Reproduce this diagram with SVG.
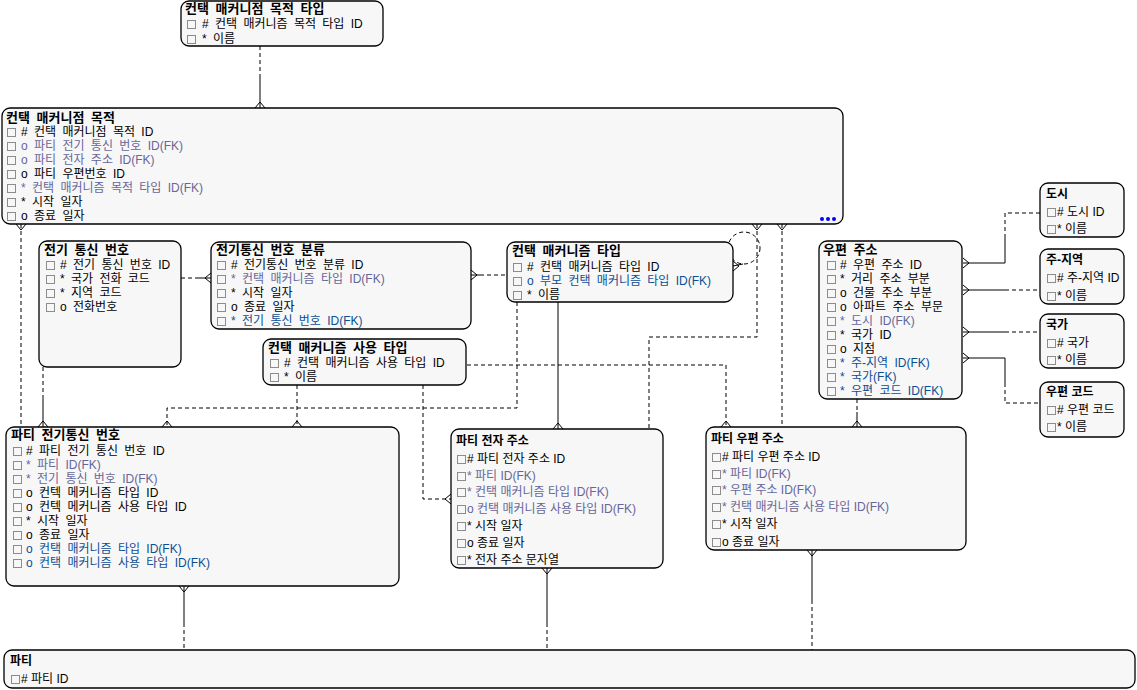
<svg xmlns="http://www.w3.org/2000/svg" xmlns:xlink="http://www.w3.org/1999/xlink" width="1137" height="690" viewBox="0 0 1137 690">
<style>
.box{fill:#f7f7f7;stroke:#000;stroke-width:1.3}
text{font-family:"Liberation Sans","Noto Sans CJK KR",sans-serif;font-size:12px;fill:#000}
.a text{word-spacing:3px}
.ti{font-weight:bold;font-size:13px}
.b .ti{font-size:12px}
.f1{fill:#666699}
.f2{fill:#0b4f94}
.cb{fill:none;stroke:#8c8c8c;stroke-width:1}
.ln{fill:none;stroke:#000;stroke-width:1}
.d{stroke-dasharray:4 3}
</style>
<defs>
<rect id="cb" class="cb" x="0.5" y="0.5" width="8" height="8"/>
<clipPath id="clip9"><rect x="1040" y="249" width="80" height="55"/></clipPath>
</defs>
<rect width="1137" height="690" fill="#fff"/>

<g id="connectors">
<path class="ln d" d="M260,46V78"/><path class="ln" d="M260,78V108M255,108L260,102L265,108"/>
<path class="ln" d="M16,224L21,230L26,224"/><path class="ln d" d="M21,224V427"/>
<path class="ln d" d="M43,367V398"/><path class="ln" d="M43,398V427M38,427L43,421L48,427"/>
<path class="ln d" d="M181,278H198"/><path class="ln" d="M198,278H211M211,273L205,278L211,283"/>
<path class="ln" d="M471,270L477,275L471,280M471,275H480"/><path class="ln d" d="M480,275H507"/>
<circle class="ln d" cx="744" cy="248" r="16"/>
<path class="ln" d="M733,266L743,264M733,261L739,266L733,271"/>
<path class="ln d" d="M517,302V408H167V427"/><path class="ln" d="M162,427L167,421L172,427"/>
<path class="ln" d="M558,302V429M553,429L558,423L563,429"/>
<path class="ln d" d="M467,365H726V427"/><path class="ln" d="M721,427L726,421L731,427"/>
<path class="ln d" d="M297,385V427"/><path class="ln" d="M292,427L297,421L302,427"/>
<path class="ln d" d="M423,385V499H451"/><path class="ln" d="M451,494L445,499L451,504"/>
<path class="ln" d="M752,224L757,230L762,224"/><path class="ln d" d="M757,224V337H649V429"/>
<path class="ln" d="M777,224L782,230L787,224"/><path class="ln d" d="M782,224V427"/>
<path class="ln d" d="M857,399V412"/><path class="ln" d="M857,412V427M852,427L857,421L862,427"/>
<path class="ln" d="M963,258L969,263L963,268M963,263H1005V238"/><path class="ln d" d="M1005,238V213H1040"/>
<path class="ln" d="M963,285L969,290L963,295M963,290H1005"/><path class="ln d" d="M1005,290H1040"/>
<path class="ln" d="M963,327L969,332L963,337M963,332H1005"/><path class="ln d" d="M1005,332H1040"/>
<path class="ln" d="M963,353L969,358L963,363M963,358H1005V383"/><path class="ln d" d="M1005,383V403H1040"/>
<path class="ln" d="M179,586L184,592L189,586M184,586V623"/><path class="ln d" d="M184,623V650"/>
<path class="ln" d="M542,568L547,574L552,568M547,568V623"/><path class="ln d" d="M547,623V650"/>
<path class="ln" d="M807,550L812,556L817,550M812,550V600"/><path class="ln d" d="M812,600V650"/>
</g>

<g id="n1" class="a">
<rect class="box" x="181" y="1" width="202" height="45" rx="8"/>
<text class="ti" x="185" y="13">컨택 매커니점 목적 타입</text>
<use href="#cb" x="187" y="20"/><text x="202" y="28"># 컨택 매커니즘 목적 타입 ID</text>
<use href="#cb" x="187" y="35"/><text x="202" y="43">* 이름</text>
</g>

<g id="n2" class="a">
<rect class="box" x="2" y="108" width="841" height="116" rx="8"/>
<text class="ti" x="6" y="122">컨택 매커니점 목적</text>
<use href="#cb" x="7" y="128"/><text x="21" y="136"># 컨택 매커니점 목적 ID</text>
<use href="#cb" x="7" y="142"/><text class="f1" x="21" y="150">o 파티 전기 통신 번호 ID(FK)</text>
<use href="#cb" x="7" y="156"/><text class="f1" x="21" y="164">o 파티 전자 주소 ID(FK)</text>
<use href="#cb" x="7" y="170"/><text x="21" y="178">o 파티 우편번호 ID</text>
<use href="#cb" x="7" y="184"/><text class="f1" x="21" y="192">* 컨택 매커니즘 목적 타입 ID(FK)</text>
<use href="#cb" x="7" y="198"/><text x="21" y="206">* 시작 일자</text>
<use href="#cb" x="7" y="212"/><text x="21" y="220">o 종료 일자</text>
<circle cx="822" cy="219" r="2" fill="#0000ff"/><circle cx="828" cy="219" r="2" fill="#0000ff"/><circle cx="834" cy="219" r="2" fill="#0000ff"/>
</g>

<g id="n3" class="a">
<rect class="box" x="39" y="241" width="142" height="126" rx="8"/>
<text class="ti" x="44" y="254">전기 통신 번호</text>
<use href="#cb" x="46" y="261"/><text x="60" y="269"># 전기 통신 번호 ID</text>
<use href="#cb" x="46" y="275"/><text x="60" y="283">* 국가 전화 코드</text>
<use href="#cb" x="46" y="289"/><text x="60" y="297">* 지역 코드</text>
<use href="#cb" x="46" y="303"/><text x="60" y="311">o 전화번호</text>
</g>

<g id="n4" class="a">
<rect class="box" x="211" y="242" width="260" height="87" rx="8"/>
<text class="ti" x="216" y="254">전기통신 번호 분류</text>
<use href="#cb" x="217" y="261"/><text x="231" y="269"># 전기통신 번호 분류 ID</text>
<use href="#cb" x="217" y="275"/><text class="f1" x="231" y="283">* 컨택 매커니즘 타입 ID(FK)</text>
<use href="#cb" x="217" y="289"/><text x="231" y="297">* 시작 일자</text>
<use href="#cb" x="217" y="303"/><text x="231" y="311">o 종료 일자</text>
<use href="#cb" x="217" y="317"/><text class="f2" x="231" y="325">* 전기 통신 번호 ID(FK)</text>
</g>

<g id="n5" class="a">
<rect class="box" x="263" y="339" width="203" height="46" rx="8"/>
<text class="ti" x="268" y="352">컨택 매커니즘 사용 타입</text>
<use href="#cb" x="270" y="359"/><text x="284" y="367"># 컨택 매커니즘 사용 타입 ID</text>
<use href="#cb" x="270" y="373"/><text x="284" y="381">* 이름</text>
</g>

<g id="n6" class="a">
<rect class="box" x="507" y="242" width="226" height="60" rx="8"/>
<text class="ti" x="512" y="255">컨택 매커니즘 타입</text>
<use href="#cb" x="513" y="263"/><text x="527" y="271"># 컨택 매커니즘 타입 ID</text>
<use href="#cb" x="513" y="277"/><text class="f2" x="527" y="285">o 부모 컨택 매커니즘 타입 ID(FK)</text>
<use href="#cb" x="513" y="291"/><text x="527" y="299">* 이름</text>
</g>

<g id="n7" class="a">
<rect class="box" x="819" y="241" width="143" height="158" rx="8"/>
<text class="ti" x="823" y="254">우편 주소</text>
<use href="#cb" x="827" y="261"/><text x="840" y="269"># 우편 주소 ID</text>
<use href="#cb" x="827" y="275"/><text x="840" y="283">* 거리 주소 부분</text>
<use href="#cb" x="827" y="289"/><text x="840" y="297">o 건물 주소 부분</text>
<use href="#cb" x="827" y="303"/><text x="840" y="311">o 아파트 주소 부문</text>
<use href="#cb" x="827" y="317"/><text class="f1" x="840" y="325">* 도시 ID(FK)</text>
<use href="#cb" x="827" y="331"/><text x="840" y="339">* 국가 ID</text>
<use href="#cb" x="827" y="345"/><text x="840" y="353">o 지점</text>
<use href="#cb" x="827" y="359"/><text class="f2" x="840" y="367">* 주-지역 ID(FK)</text>
<use href="#cb" x="827" y="373"/><text class="f2" x="840" y="381">* 국가(FK)</text>
<use href="#cb" x="827" y="387"/><text class="f2" x="840" y="395">* 우편 코드 ID(FK)</text>
</g>

<g id="n8" class="b">
<rect class="box" x="1040" y="183" width="84" height="54" rx="8"/>
<text class="ti" x="1046" y="198">도시</text>
<use href="#cb" x="1047" y="208"/><text x="1057" y="216"># 도시 ID</text>
<use href="#cb" x="1047" y="225"/><text x="1057" y="233">* 이름</text>
</g>

<g id="n9" class="b">
<rect class="box" x="1040" y="249" width="84" height="55" rx="8"/>
<text class="ti" x="1046" y="264">주-지역</text>
<use href="#cb" x="1047" y="274"/><text x="1057" y="282" clip-path="url(#clip9)"># 주-지역 ID</text>
<use href="#cb" x="1047" y="292"/><text x="1057" y="300">* 이름</text>
</g>

<g id="n10" class="b">
<rect class="box" x="1040" y="314" width="84" height="54" rx="8"/>
<text class="ti" x="1046" y="329">국가</text>
<use href="#cb" x="1047" y="339"/><text x="1057" y="347"># 국가</text>
<use href="#cb" x="1047" y="356"/><text x="1057" y="364">* 이름</text>
</g>

<g id="n11" class="b">
<rect class="box" x="1040" y="382" width="84" height="55" rx="8"/>
<text class="ti" x="1046" y="396">우편 코드</text>
<use href="#cb" x="1047" y="406"/><text x="1057" y="414"># 우편 코드</text>
<use href="#cb" x="1047" y="423"/><text x="1057" y="431">* 이름</text>
</g>

<g id="n12" class="a">
<rect class="box" x="6" y="427" width="393" height="159" rx="8"/>
<text class="ti" x="11" y="439">파티 전기통신 번호</text>
<use href="#cb" x="13" y="447"/><text x="26" y="455"># 파티 전기 통신 번호 ID</text>
<use href="#cb" x="13" y="461"/><text class="f1" x="26" y="469">* 파티 ID(FK)</text>
<use href="#cb" x="13" y="475"/><text class="f1" x="26" y="483">* 전기 통신 번호 ID(FK)</text>
<use href="#cb" x="13" y="489"/><text x="26" y="497">o 컨텍 메커니즘 타입 ID</text>
<use href="#cb" x="13" y="503"/><text x="26" y="511">o 컨텍 메커니즘 사용 타입 ID</text>
<use href="#cb" x="13" y="517"/><text x="26" y="525">* 시작 일자</text>
<use href="#cb" x="13" y="531"/><text x="26" y="539">o 종료 일자</text>
<use href="#cb" x="13" y="545"/><text class="f2" x="26" y="553">o 컨택 매커니즘 타입 ID(FK)</text>
<use href="#cb" x="13" y="559"/><text class="f2" x="26" y="567">o 컨택 매커니즘 사용 타입 ID(FK)</text>
</g>

<g id="n13" class="b">
<rect class="box" x="451" y="429" width="212" height="139" rx="8"/>
<text class="ti" x="456" y="445">파티 전자 주소</text>
<use href="#cb" x="457" y="455"/><text x="467" y="463"># 파티 전자 주소 ID</text>
<use href="#cb" x="457" y="472"/><text class="f1" x="467" y="480">* 파티 ID(FK)</text>
<use href="#cb" x="457" y="488"/><text class="f1" x="467" y="496">* 컨택 매커니즘 타입 ID(FK)</text>
<use href="#cb" x="457" y="505"/><text class="f1" x="467" y="513">o 컨택 매커니즘 사용 타입 ID(FK)</text>
<use href="#cb" x="457" y="522"/><text x="467" y="530">* 시작 일자</text>
<use href="#cb" x="457" y="539"/><text x="467" y="547">o 종료 일자</text>
<use href="#cb" x="457" y="556"/><text x="467" y="564">* 전자 주소 문자열</text>
</g>

<g id="n14" class="b">
<rect class="box" x="706" y="427" width="260" height="123" rx="8"/>
<text class="ti" x="711" y="443">파티 우편 주소</text>
<use href="#cb" x="712" y="453"/><text x="722" y="461"># 파티 우편 주소 ID</text>
<use href="#cb" x="712" y="470"/><text class="f1" x="722" y="478">* 파티 ID(FK)</text>
<use href="#cb" x="712" y="486"/><text class="f1" x="722" y="494">* 우편 주소 ID(FK)</text>
<use href="#cb" x="712" y="503"/><text class="f1" x="722" y="511">* 컨택 매커니즘 사용 타입 ID(FK)</text>
<use href="#cb" x="712" y="520"/><text x="722" y="528">* 시작 일자</text>
<use href="#cb" x="712" y="538"/><text x="722" y="546">o 종료 일자</text>
</g>

<g id="n15" class="b">
<rect class="box" x="4" y="650" width="1131" height="38" rx="8"/>
<text class="ti" x="10" y="665">파티</text>
<use href="#cb" x="11" y="675"/><text x="21" y="683"># 파티 ID</text>
</g>
</svg>
